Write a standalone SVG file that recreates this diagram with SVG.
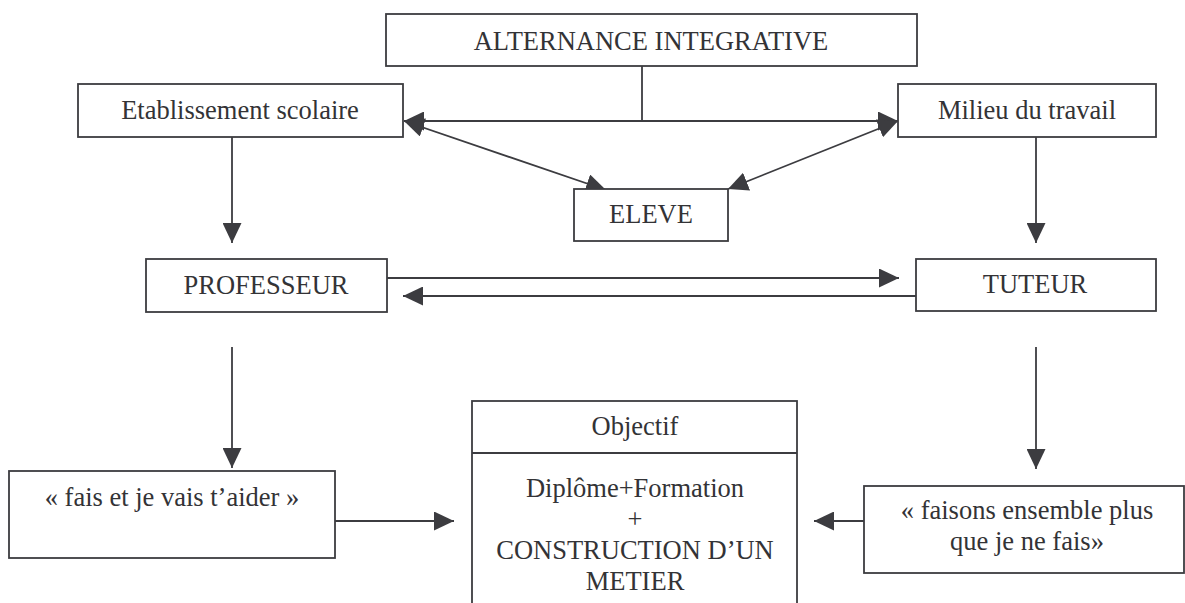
<svg xmlns="http://www.w3.org/2000/svg" width="1185" height="603" viewBox="0 0 1185 603">
  <style>
    .box { fill: #ffffff; stroke: #3c3c40; stroke-width: 1.8; }
    .lbl { font-family: "Liberation Serif", "Times New Roman", serif; font-size: 26.5px; fill: #333336; text-anchor: middle; }
    .wire { fill: none; stroke: #3c3c40; stroke-width: 1.8; }
  </style>
  <defs>
    <marker id="head" markerUnits="userSpaceOnUse" markerWidth="20" markerHeight="19" refX="20" refY="9.5" orient="auto-start-reverse" viewBox="0 0 20 19">
      <path d="M0,0 L20,9.5 L0,19 z" fill="#3c3c40"/>
    </marker>
  </defs>
  <rect width="1185" height="603" fill="#ffffff"/>

  <g id="connectors">
    <!-- top: from ALTERNANCE down to the shared bar -->
    <line class="wire" x1="642" y1="66" x2="642" y2="121"/>
    <line class="wire" x1="404" y1="121" x2="898" y2="121" marker-start="url(#head)" marker-end="url(#head)"/>
    <!-- diagonals to ELEVE -->
    <line class="wire" x1="404" y1="121" x2="606" y2="190" marker-start="url(#head)" marker-end="url(#head)"/>
    <line class="wire" x1="898" y1="121" x2="728" y2="189" marker-start="url(#head)" marker-end="url(#head)"/>
    <!-- vertical flows -->
    <line class="wire" x1="232" y1="137" x2="232" y2="243" marker-end="url(#head)"/>
    <line class="wire" x1="1036" y1="137" x2="1036" y2="243" marker-end="url(#head)"/>
    <line class="wire" x1="232" y1="347" x2="232" y2="468" marker-end="url(#head)"/>
    <line class="wire" x1="1036" y1="347" x2="1036" y2="469" marker-end="url(#head)"/>
    <!-- PROFESSEUR <-> TUTEUR -->
    <line class="wire" x1="387" y1="278" x2="899" y2="278" marker-end="url(#head)"/>
    <line class="wire" x1="916" y1="296" x2="403" y2="296" marker-end="url(#head)"/>
    <!-- into Objectif -->
    <line class="wire" x1="335" y1="521" x2="454" y2="521" marker-end="url(#head)"/>
    <line class="wire" x1="864" y1="521" x2="814" y2="521" marker-end="url(#head)"/>
  </g>

  <g id="alternance">
    <rect class="box" x="386" y="14" width="531" height="52"/>
    <text class="lbl" x="651" y="50">ALTERNANCE INTEGRATIVE</text>
  </g>

  <g id="etablissement">
    <rect class="box" x="78" y="84" width="325" height="53"/>
    <text class="lbl" x="240" y="119">Etablissement scolaire</text>
  </g>

  <g id="milieu">
    <rect class="box" x="898" y="84" width="258" height="53"/>
    <text class="lbl" x="1027" y="119">Milieu du travail</text>
  </g>

  <g id="eleve">
    <rect class="box" x="574" y="189" width="154" height="52"/>
    <text class="lbl" x="651" y="223">ELEVE</text>
  </g>

  <g id="professeur">
    <rect class="box" x="146" y="259" width="241" height="53"/>
    <text class="lbl" x="266" y="294">PROFESSEUR</text>
  </g>

  <g id="tuteur">
    <rect class="box" x="916" y="259" width="240" height="52"/>
    <text class="lbl" x="1035" y="293">TUTEUR</text>
  </g>

  <g id="fais">
    <rect class="box" x="9" y="471" width="326" height="87"/>
    <text class="lbl" x="172" y="506">« fais et je vais t’aider »</text>
  </g>

  <g id="objectif">
    <rect class="box" x="472" y="401" width="325" height="230"/>
    <line class="wire" x1="472" y1="453" x2="797" y2="453"/>
    <text class="lbl" x="635" y="435">Objectif</text>
    <text class="lbl" x="635" y="497">Diplôme+Formation</text>
    <text class="lbl" x="635" y="528">+</text>
    <text class="lbl" x="635" y="559">CONSTRUCTION D’UN</text>
    <text class="lbl" x="635" y="590">METIER</text>
  </g>

  <g id="faisons">
    <rect class="box" x="864" y="486" width="320" height="87"/>
    <text class="lbl" x="1027" y="519">« faisons ensemble plus</text>
    <text class="lbl" x="1027" y="550">que je ne fais»</text>
  </g>
</svg>
